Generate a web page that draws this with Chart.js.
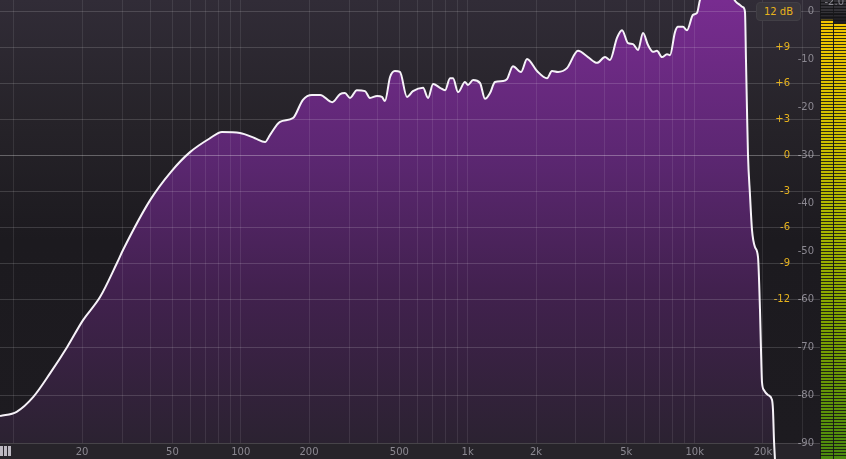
<!DOCTYPE html>
<html>
<head>
<meta charset="utf-8">
<script src="https://cdn.jsdelivr.net/npm/chart.js@4.4.1/dist/chart.umd.min.js"></script>
<style>
  html, body { margin: 0; padding: 0; background: #1c1a1e; overflow: hidden; }
  #wrap { position: relative; width: 846px; height: 459px;
    background: linear-gradient(to bottom, #312c37 0px, #262329 120px, #1c1a1f 240px, #1d1b20 443px, #27242a 443px, #27242a 459px); }
  #main { position: absolute; left: 0; top: 0; }
  #meterBox { position: absolute; left: 820px; top: 0; width: 26px; height: 459px; background: #201f23; }
  #meterTop { position: absolute; left: 820px; top: 0; width: 26px; height: 13px; background: #333237; border-bottom: 1px solid #1a1a1c; }
  #meterTop2 { position: absolute; left: 820px; top: 15px; width: 26px; height: 1px; background: #2c2b30; }
  #meter { position: absolute; left: 820px; top: 0; }
  #readout { position: absolute; left: 820px; top: -4px; width: 24px; text-align: right; font: 10px "DejaVu Sans", sans-serif; color: #8a8990; }
  #btn { position: absolute; left: 756px; top: 2px; width: 43px; height: 17px; border-radius: 4px; background: #39363d; border: 1px solid #423f46;
    font: 10px "DejaVu Sans", sans-serif; color: #e8b31c; line-height: 17px; text-align: center; }
  #piano { position: absolute; left: 0; top: 446px; width: 11px; height: 10px;
    background: repeating-linear-gradient(to right, #bdb9c2 0px, #bdb9c2 3px, #2a272d 3px, #2a272d 4px); }
</style>
</head>
<body>
<div id="wrap">
  <canvas id="main" width="846" height="459"></canvas>
  <div id="meterBox"></div>
  <div id="meterTop"></div>
  <div id="meterTop2"></div>
  <canvas id="meter" width="26" height="459"></canvas>
  <div id="readout"></div>
  <div id="btn">12 dB</div>
  <div id="piano"></div>
</div>
<script>
// ---- data ----
const freqHz = [8.7, 10.3, 12.2, 14.5, 17.2, 20.2, 24.0, 28.5, 30.3, 39.9, 49.3, 59.8, 73.3, 82.7, 99.3, 115.6, 128, 134.7, 149, 170, 188, 206, 224, 253, 274, 288, 303, 325, 353, 371, 399, 419, 432, 455, 478, 503, 540, 574, 636, 669, 704, 755, 795, 836, 862, 907, 973, 1003, 1056, 1133, 1192, 1254, 1319, 1431, 1490, 1583, 1718, 1826, 2020, 2236, 2352, 2500, 2738, 3062, 3388, 3714, 4027, 4236, 4547, 4786, 5087, 5350, 5628, 5922, 6230, 6553, 6823, 7179, 7553, 7786, 8191, 8444, 8883, 9251, 9832, 10240, 10557, 11683, 13602, 15208, 15835, 16326, 16660, 16830, 17002, 17176, 17528, 17888, 18440, 19012, 19400, 19598, 19798, 20203, 21044, 21910, 22133, 22360, 22586];
const levelDb = [-84.4, -83.5, -80.4, -75.4, -70.0, -64.4, -59.6, -52.5, -49.8, -39.4, -33.5, -29.4, -26.5, -25.2, -25.4, -26.5, -27.3, -25.8, -23.1, -22.3, -18.5, -17.5, -17.5, -19.0, -17.3, -17.1, -18.1, -16.5, -16.7, -18.1, -17.7, -17.9, -18.75, -13.75, -12.5, -12.7, -17.9, -16.7, -16.0, -18.1, -15.2, -16.0, -16.5, -14.0, -14.0, -16.9, -14.8, -15.4, -14.4, -15.0, -18.3, -17.1, -14.8, -14.6, -14.2, -11.5, -12.7, -10.0, -12.5, -14.0, -12.5, -12.7, -11.9, -8.3, -9.6, -10.8, -9.6, -10.2, -5.6, -4.0, -6.7, -6.9, -8.1, -4.6, -7.1, -8.5, -8.3, -9.6, -9.0, -9.2, -4.4, -3.3, -3.3, -4.0, -0.8, -0.4, 2.3, 5.0, 5.0, 1.9, 1.25, 0.8, -0.2, -10.2, -20.6, -30.0, -38.3, -45.6, -49.2, -51.25, -62.3, -70.6, -77.3, -79.0, -80.0, -81.0, -83.1, -89.4, -93.5];

const gridFreqs = [10, 20, 30, 40, 50, 60, 70, 80, 90, 100, 200, 300, 400, 500, 600, 700, 800, 900, 1000, 2000, 3000, 4000, 5000, 6000, 7000, 8000, 9000, 10000, 20000, 30000];
const freqTickValues = [20, 50, 100, 200, 500, 1000, 2000, 5000, 10000, 20000];
const freqTickLabels = ['20', '50', '100', '200', '500', '1k', '2k', '5k', '10k', '20k'];

const analyzerTicks = [0, -10, -20, -30, -40, -50, -60, -70, -80, -90];
const analyzerTickLabels = ['0', '-10', '-20', '-30', '-40', '-50', '-60', '-70', '-80', '-90'];
const eqTicks = [9, 6, 3, 0, -3, -6, -9, -12];
const eqTickLabels = ['+9', '+6', '+3', '0', '-3', '-6', '-9', '-12'];

const meterChannels = ['L', 'R'];
const meterPeakDb = [-1.9, -2.7];
const meterReadout = '-2.0';

// ---- scale ranges ----
const FREQ_MIN = 8.7, FREQ_MAX = 35660;
const DB_MIN = -90, DB_MAX = 2.2917;
const EQ_MIN = -24, EQ_MAX = 12.9167;

const FONT = { family: '"DejaVu Sans", sans-serif', size: 10 };
const GRAY = '#8b8891';
const YELLOW = '#e6b21c';

function zeroFit(s) { s.paddingTop = 0; s.paddingBottom = 0; s.paddingLeft = 0; s.paddingRight = 0; if (s.isHorizontal()) s.height = 16; else s.width = 0; }

const points = freqHz.map((f, i) => ({ x: f, y: levelDb[i] }));

new Chart(document.getElementById('main'), {
  type: 'line',
  data: {
    datasets: [{
      data: points,
      borderColor: '#f6f2f8',
      borderWidth: 2,
      pointRadius: 0,
      tension: 0.4,
      cubicInterpolationMode: 'monotone',
      fill: 'start',
      clip: { left: 0, top: 0, right: 0, bottom: 16 },
      backgroundColor: (ctx) => {
        const ca = ctx.chart.chartArea;
        if (!ca) return 'rgba(0,0,0,0)';
        const g = ctx.chart.ctx.createLinearGradient(0, ca.top, 0, ca.bottom);
        g.addColorStop(0, '#782c90');
        g.addColorStop(0.35, '#5c2772');
        g.addColorStop(0.65, '#42214f');
        g.addColorStop(1, '#2b2231');
        return g;
      }
    }]
  },
  options: {
    responsive: false,
    animation: false,
    devicePixelRatio: 1,
    layout: { padding: { left: 0, top: 0, right: 26, bottom: 0 } },
    plugins: { legend: { display: false }, tooltip: { enabled: false } },
    scales: {
      x: {
        type: 'logarithmic',
        position: 'bottom',
        min: FREQ_MIN, max: FREQ_MAX,
        afterBuildTicks: (s) => { s.ticks = gridFreqs.map(v => ({ value: v })); },
        afterFit: zeroFit,
        border: { display: false },
        grid: { z: 1, drawTicks: false, color: 'rgba(255,255,255,0.09)', lineWidth: 1 },
        ticks: {
          autoSkip: false, maxRotation: 0, minRotation: 0, padding: 3,
          color: GRAY, font: FONT,
          callback: (v) => { const i = freqTickValues.indexOf(v); return i >= 0 ? freqTickLabels[i] : ''; }
        }
      },
      y: {
        type: 'linear',
        position: 'right',
        min: DB_MIN, max: DB_MAX,
        afterBuildTicks: (s) => { s.ticks = analyzerTicks.map(v => ({ value: v })); },
        afterFit: zeroFit,
        border: { display: false },
        grid: {
          z: 1, drawTicks: false, lineWidth: 1,
          color: (c) => { const v = c.tick && c.tick.value; return (v === 0 || v <= -70) ? 'rgba(255,255,255,0.15)' : 'rgba(0,0,0,0)'; }
        },
        ticks: {
          mirror: true, padding: -6, color: GRAY, font: FONT,
          callback: (v) => { const i = analyzerTicks.indexOf(v); return i >= 0 ? analyzerTickLabels[i] : ''; }
        }
      },
      yEq: {
        type: 'linear',
        position: 'right',
        min: EQ_MIN, max: EQ_MAX,
        afterBuildTicks: (s) => { s.ticks = eqTicks.map(v => ({ value: v })); },
        afterFit: zeroFit,
        border: { display: false },
        grid: {
          z: 1, drawTicks: false, lineWidth: 1,
          color: (c) => (c.tick && c.tick.value === 0) ? 'rgba(255,255,255,0.30)' : 'rgba(255,255,255,0.15)'
        },
        ticks: {
          mirror: true, padding: -30, color: YELLOW, font: FONT,
          callback: (v) => { const i = eqTicks.indexOf(v); return i >= 0 ? eqTickLabels[i] : ''; }
        }
      }
    }
  }
});

// ---- level meter ----
document.getElementById('readout').textContent = meterReadout;
const METER_MIN = -93.333;
new Chart(document.getElementById('meter'), {
  type: 'bar',
  data: {
    labels: meterChannels,
    datasets: [{
      data: meterPeakDb.map(v => [METER_MIN - 5, v]),
      borderWidth: 0,
      barPercentage: 1,
      categoryPercentage: 1,
      backgroundColor: (ctx) => {
        const ca = ctx.chart.chartArea;
        if (!ca) return '#c0c000';
        const g = ctx.chart.ctx.createLinearGradient(0, ca.top, 0, ca.bottom);
        g.addColorStop(0, '#f8c800');
        g.addColorStop(0.3, '#cdbf00');
        g.addColorStop(0.5, '#a8b500');
        g.addColorStop(0.7, '#80a300');
        g.addColorStop(1, '#4b8a0e');
        return g;
      }
    }]
  },
  options: {
    responsive: false,
    animation: false,
    devicePixelRatio: 1,
    layout: { padding: 0 },
    plugins: { legend: { display: false }, tooltip: { enabled: false } },
    scales: {
      x: {
        display: true,
        afterFit: (s) => { s.height = 0; s.paddingLeft = 0; s.paddingRight = 0; },
        border: { display: false },
        ticks: { display: false },
        grid: { z: 1, offset: true, drawTicks: false, color: '#1b1b1d', lineWidth: 1 }
      },
      y: {
        min: METER_MIN, max: DB_MAX,
        afterBuildTicks: (s) => { const t = []; for (let v = METER_MIN; v <= DB_MAX; v += 0.625) t.push({ value: v }); s.ticks = t; },
        afterFit: (s) => { s.width = 0; s.paddingTop = 0; s.paddingBottom = 0; },
        border: { display: false },
        ticks: { display: false },
        grid: { z: 1, drawTicks: false, color: 'rgba(20,20,22,0.85)', lineWidth: 1 }
      }
    }
  }
});
</script>
</body>
</html>
